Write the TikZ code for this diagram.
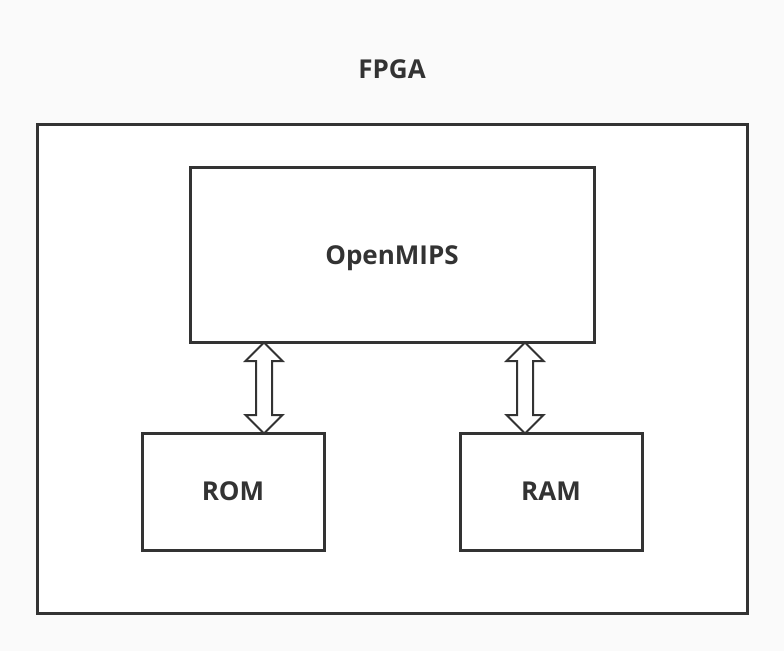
\documentclass[tikz,border=0pt]{standalone}
\usepackage{fontspec}
\setsansfont{Open Sans}
\usetikzlibrary{shapes.arrows, positioning}
\definecolor{ink}{HTML}{333333}
\definecolor{paper}{HTML}{FAFAFA}

\begin{document}
\begin{tikzpicture}[x=1pt, y=-1pt,
    every node/.style={font=\sffamily\bfseries\fontsize{26}{31}\selectfont, text=ink},
    block/.style={draw=ink, line width=3pt, fill=white, text depth=0pt},
    bus/.style={double arrow, draw=ink, line width=2pt, fill=white,
        inner sep=7pt, double arrow head extend=10.5pt,
        minimum height=91pt, rotate=90}]

    % canvas
    \fill[paper] (0,0) rectangle (784,651);
    \useasboundingbox (0,0) rectangle (784,651);

    \node (title) at (392,69.5) {FPGA};
    \node[block, minimum width=710pt, minimum height=489pt] (fpga) at (392,368.5) {};

    \node[block, minimum width=404pt, minimum height=175pt] (mips) at (392,255) {OpenMIPS};
    \node[block, minimum width=182pt, minimum height=117pt] (rom) at (233,491.5) {ROM};
    \node[block, minimum width=182pt, minimum height=117pt] (ram) at (551,491.5) {RAM};

    % buses between core and memories
    \node[bus] (rombus) at (264,388) {};
    \node[bus] (rambus) at (525,388) {};

\end{tikzpicture}
\end{document}
